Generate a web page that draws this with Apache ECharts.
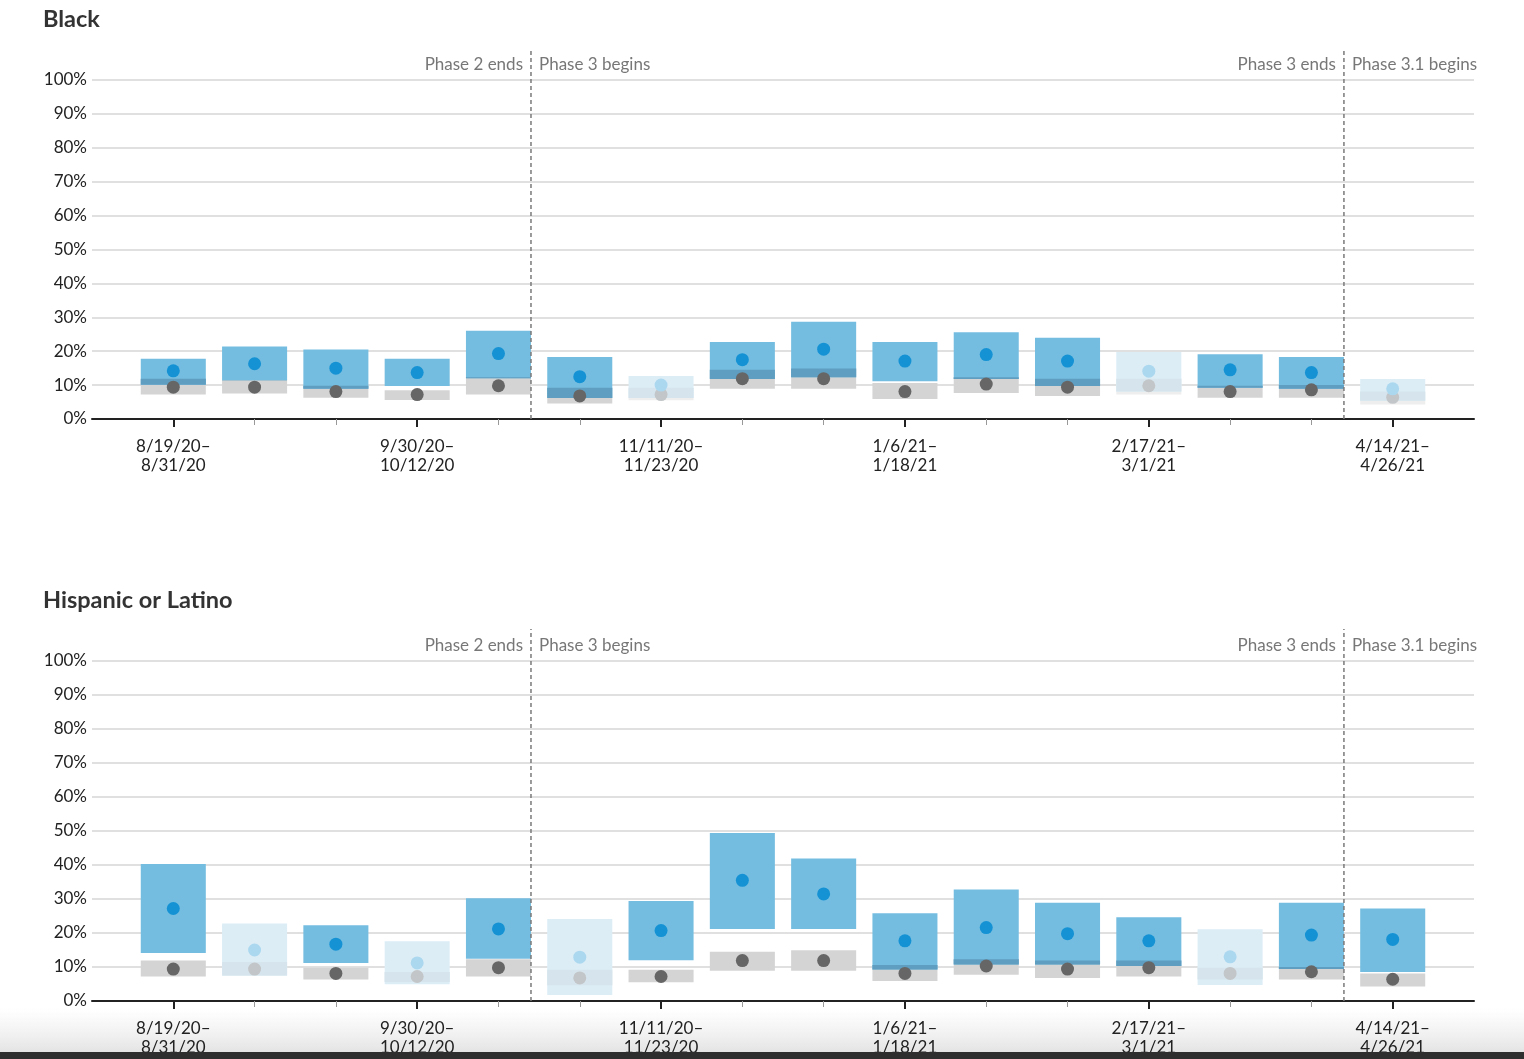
<!DOCTYPE html>
<html>
<head>
<meta charset="utf-8">
<script src="https://cdn.jsdelivr.net/npm/echarts@6/dist/echarts.min.js"></script>
<style>
html, body { margin: 0; padding: 0; background: #fff; }
#main { width: 1524px; height: 1059px; }
</style>
</head>
<body>
<div id="main"></div>
<script>
// two-week periods, only some carry a label on the axis
var periodLabels = ['8/19/20–\n8/31/20', '', '', '9/30/20–\n10/12/20', '', '', '11/11/20–\n11/23/20', '', '',
    '1/6/21–\n1/18/21', '', '', '2/17/21–\n3/1/21', '', '', '4/14/21–\n4/26/21'];
var majorTicks = [0, 3, 6, 9, 12, 15];
var minorTicks = [1, 2, 4, 5, 7, 8, 10, 11, 13, 14];

// phase markers
var phaseAt = [4.4, 14.4];
var phaseEnds = ['Phase 2 ends', 'Phase 3 ends'];
var phaseBegins = ['Phase 3 begins', 'Phase 3.1 begins'];

// comparison group (grey boxes), same in both panels
var whiteEst = [9.4, 9.4, 8.1, 7.2, 9.8, 6.8, 7.2, 11.9, 11.9, 8.1, 10.3, 9.4, 9.8, 8.1, 8.6, 6.4];
var whiteLo  = [7.2, 7.5, 6.3, 5.6, 7.2, 4.6, 5.5, 8.9, 8.9, 5.9, 7.7, 6.8, 7.2, 6.3, 6.3, 4.3];
var whiteHi  = [11.9, 11.5, 9.8, 8.5, 12.3, 9.2, 9.2, 14.5, 14.9, 10.6, 12.3, 11.9, 11.9, 9.8, 10.0, 8.1];

// Black
var blackEst = [14.2, 16.3, 15.0, 13.7, 19.3, 12.5, 10.0, 17.5, 20.6, 17.1, 19.0, 17.1, 14.1, 14.5, 13.7, 8.9];
var blackLo  = [10.1, 11.4, 8.9, 9.7, 12.0, 6.2, 6.2, 11.8, 12.3, 11.1, 11.8, 9.7, 8.1, 9.2, 8.9, 5.4];
var blackHi  = [17.8, 21.4, 20.5, 17.8, 26.0, 18.3, 12.7, 22.7, 28.7, 22.7, 25.6, 24.0, 19.8, 19.1, 18.3, 11.8];
var blackFaded = [0, 0, 0, 0, 0, 0, 1, 0, 0, 0, 0, 0, 1, 0, 0, 1];

// Hispanic or Latino
var hispEst = [27.2, 15.0, 16.7, 11.2, 21.2, 12.9, 20.7, 35.5, 31.5, 17.7, 21.6, 19.8, 17.7, 13.0, 19.4, 18.1];
var hispLo  = [14.1, 7.5, 11.2, 4.9, 12.4, 1.8, 12.0, 21.2, 21.2, 9.3, 10.7, 10.7, 10.3, 4.7, 9.4, 8.5];
var hispHi  = [40.3, 22.8, 22.3, 17.6, 30.2, 24.1, 29.4, 49.4, 41.9, 25.8, 32.8, 28.9, 24.6, 21.1, 28.9, 27.2];
var hispFaded = [0, 1, 0, 1, 0, 1, 0, 0, 0, 0, 0, 0, 0, 1, 0, 0];

var colors = {
    normal: { blue: '#74bde0', both: '#5f9ec0', grey: '#d4d4d4', blueDot: '#1592d4', greyDot: '#666666' },
    faded:  { blue: '#dcedf6', both: '#d6e5ed', grey: '#eeeeee', blueDot: '#acd8ef', greyDot: '#c3c6c8' }
};

function buildRows(est, lo, hi, faded) {
    var rows = [];
    for (var i = 0; i < est.length; i++) {
        rows.push([i, lo[i], hi[i], est[i], whiteLo[i], whiteHi[i], whiteEst[i], faded[i]]);
    }
    return rows;
}

function renderBox(params, api) {
    var x = api.value(0);
    var w = api.size([0.8, 0])[0];
    var c = api.value(7) ? colors.faded : colors.normal;
    function box(lo, hi, fill) {
        var top = api.coord([x, hi]);
        var bot = api.coord([x, lo]);
        return { type: 'rect', shape: { x: top[0] - w / 2, y: top[1], width: w, height: bot[1] - top[1] }, style: { fill: fill } };
    }
    function dot(v, fill) {
        var p = api.coord([x, v]);
        return { type: 'circle', shape: { cx: p[0], cy: p[1], r: 6.5 }, style: { fill: fill } };
    }
    var lo = api.value(1), hi = api.value(2), wLo = api.value(4), wHi = api.value(5);
    var kids = [box(wLo, wHi, c.grey), box(lo, hi, c.blue)];
    var oLo = Math.max(lo, wLo), oHi = Math.min(hi, wHi);
    if (oHi > oLo) kids.push(box(oLo, oHi, c.both));
    kids.push(dot(api.value(6), c.greyDot));
    kids.push(dot(api.value(3), c.blueDot));
    return { type: 'group', children: kids };
}

function renderPhase(params, api) {
    var i = params.dataIndex;
    var x = api.value(0);
    var p0 = api.coord([x, 0]);
    var p100 = api.coord([x, 100]);
    return {
        type: 'group',
        children: [
            { type: 'line', shape: { x1: p0[0], y1: p0[1], x2: p0[0], y2: p100[1] - 32 },
              style: { stroke: '#7a7a7a', lineWidth: 1.5, lineDash: [4, 3] } },
            { type: 'text', x: p0[0] - 8, y: p100[1] - 15,
              style: { text: phaseEnds[i], align: 'right', verticalAlign: 'middle', fill: '#777', font: '17px Lato' } },
            { type: 'text', x: p0[0] + 8, y: p100[1] - 15,
              style: { text: phaseBegins[i], align: 'left', verticalAlign: 'middle', fill: '#777', font: '17px Lato' } }
        ]
    };
}

function xAxes(gridIndex) {
    return [{
        type: 'value', gridIndex: gridIndex, position: 'bottom', min: -1, max: 16,
        splitLine: { show: false },
        axisLine: { show: true, lineStyle: { color: '#222', width: 2 } },
        axisTick: { show: true, customValues: majorTicks, length: 8, lineStyle: { color: '#222', width: 2 } },
        axisLabel: {
            customValues: majorTicks, margin: 18, fontSize: 17, lineHeight: 19, color: '#222', fontFamily: 'Lato',
            formatter: function (v) { return periodLabels[v] || ''; }
        }
    }, {
        type: 'value', gridIndex: gridIndex, position: 'bottom', min: -1, max: 16,
        splitLine: { show: false },
        axisLine: { show: false },
        axisTick: { show: true, customValues: minorTicks, length: 6, lineStyle: { color: '#999', width: 1 } },
        axisLabel: { show: false }
    }];
}

function yAxis(gridIndex) {
    return {
        type: 'value', gridIndex: gridIndex, min: 0, max: 100, interval: 10,
        axisLine: { show: false },
        axisTick: { show: false },
        splitLine: { lineStyle: { color: '#e0e0e0', width: 2 } },
        axisLabel: { formatter: '{value}%', fontSize: 17, color: '#222', fontFamily: 'Lato', margin: 5 }
    };
}

var chart = echarts.init(document.getElementById('main'));
chart.setOption({
    animation: false,
    textStyle: { fontFamily: 'Lato' },
    title: [
        { text: 'Black', left: 43, top: 7, padding: 0, textStyle: { fontSize: 23.5, fontWeight: 'bold', color: '#333', fontFamily: 'Lato' } },
        { text: 'Hispanic or Latino', left: 43, top: 588, padding: 0, textStyle: { fontSize: 23.5, fontWeight: 'bold', color: '#333', fontFamily: 'Lato' } }
    ],
    grid: [
        { left: 92, right: 50, top: 80, height: 339 },
        { left: 92, right: 50, top: 661, height: 340 }
    ],
    xAxis: xAxes(0).concat(xAxes(1)),
    yAxis: [yAxis(0), yAxis(1)],
    graphic: [
        { type: 'rect', z: -10, shape: { x: 0, y: 1008, width: 1524, height: 44 },
          style: { fill: new echarts.graphic.LinearGradient(0, 0, 0, 1, [
              { offset: 0, color: 'rgba(236,236,236,0)' }, { offset: 1, color: '#e4e4e4' }]) } },
        { type: 'rect', z: 100, shape: { x: 0, y: 1052, width: 1524, height: 7 }, style: { fill: '#2e2e2e' } }
    ],
    series: [
        { type: 'custom', xAxisIndex: 0, yAxisIndex: 0, renderItem: renderBox,
          encode: { x: 0, y: [1, 2] }, data: buildRows(blackEst, blackLo, blackHi, blackFaded) },
        { type: 'custom', xAxisIndex: 0, yAxisIndex: 0, renderItem: renderPhase, clip: false,
          encode: { x: 0 }, data: phaseAt.map(function (v) { return [v, 0]; }), z: 3 },
        { type: 'custom', xAxisIndex: 2, yAxisIndex: 1, renderItem: renderBox,
          encode: { x: 0, y: [1, 2] }, data: buildRows(hispEst, hispLo, hispHi, hispFaded) },
        { type: 'custom', xAxisIndex: 2, yAxisIndex: 1, renderItem: renderPhase, clip: false,
          encode: { x: 0 }, data: phaseAt.map(function (v) { return [v, 0]; }), z: 3 }
    ]
});
</script>
</body>
</html>
